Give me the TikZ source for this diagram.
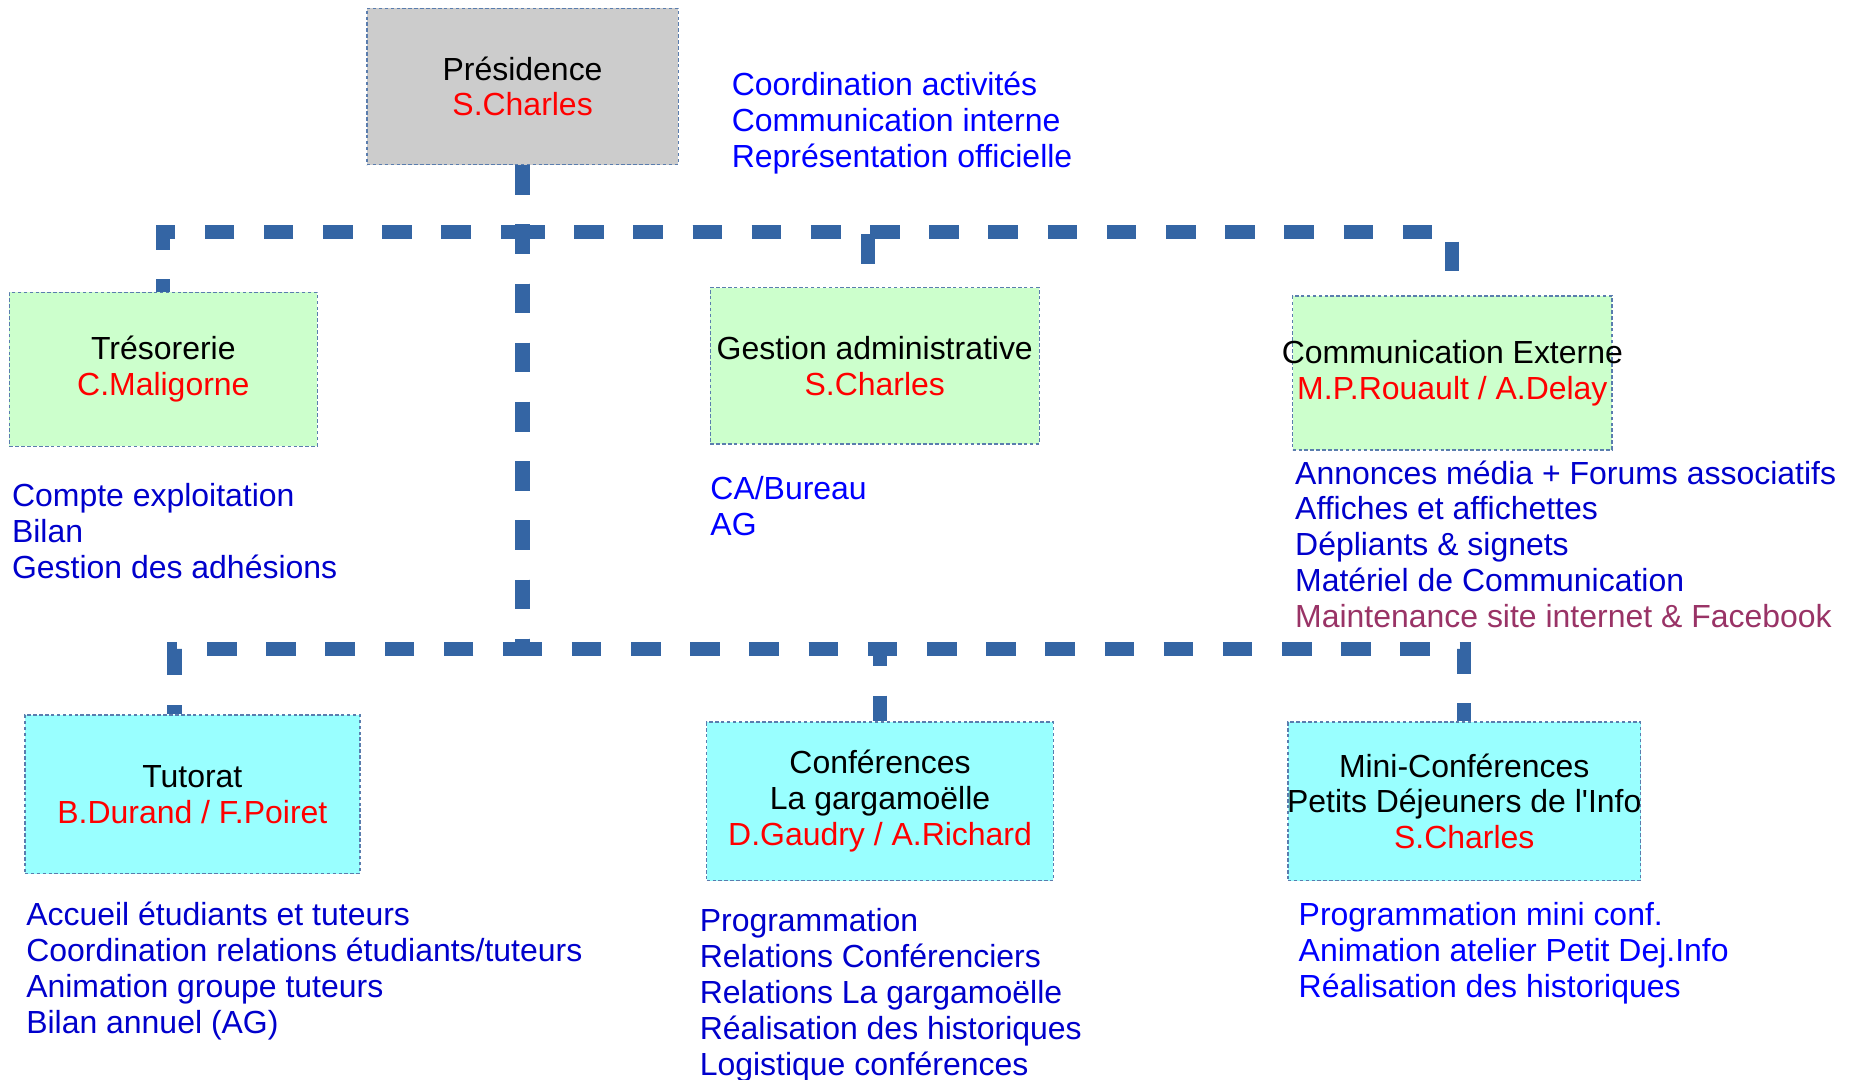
\documentclass[tikz,border=0pt]{standalone}
\usepackage{fontspec}
\setmainfont{Liberation Sans}

\definecolor{lienbleu}{HTML}{3465A4}
\definecolor{cadre}{HTML}{5A7DAE}
\definecolor{fondgris}{HTML}{CCCCCC}
\definecolor{fondvert}{HTML}{CCFFCC}
\definecolor{fondcyan}{HTML}{99FFFF}
\definecolor{nomrouge}{HTML}{FF0000}
\definecolor{tacheclair}{HTML}{0000FF}
\definecolor{tachefonce}{HTML}{0000CC}
\definecolor{tachemauve}{HTML}{993366}

\newcommand{\resp}[1]{\textcolor{nomrouge}{#1}}

\begin{document}
\begin{tikzpicture}[x=1pt,y=-1pt,font=\fontsize{27}{30.3}\selectfont,
    poste/.style={draw=cadre,line width=1.2pt,dash pattern=on 3pt off 2pt,
      align=center,inner sep=0pt},
    bureau/.style={poste,fill=fondgris},
    pole/.style={poste,fill=fondvert},
    groupe/.style={poste,fill=fondcyan},
    taches/.style={anchor=base west,align=left,inner sep=0pt},
    lien/.style={draw=lienbleu,line width=12pt,dash pattern=on 25pt off 25pt}]

  \useasboundingbox (0,0) rectangle (1568,912);

  % boites
  \node[bureau,minimum width=263,minimum height=132] (pres) at (441.5,73)
    {Présidence\\ \resp{S.Charles}};

  \begin{scope}[every node/.style={pole}]
    \node[minimum width=260,minimum height=130] (treso) at (138,312)
      {Trésorerie\\ \resp{C.Maligorne}};
    \node[minimum width=278,minimum height=132] (gestion) at (739,309)
      {Gestion administrative\\ \resp{S.Charles}};
    \node[minimum width=270,minimum height=130] (comext) at (1227,315)
      {\makebox[0pt]{Communication Externe}\\ \resp{M.P.Rouault / A.Delay}};
  \end{scope}

  \begin{scope}[every node/.style={groupe,minimum height=134}]
    \node[minimum width=283] (tutorat) at (162.5,671)
      {Tutorat\\ \resp{B.Durand / F.Poiret}};
    \node[minimum width=293] (conf) at (743.5,677)
      {Conférences\\ La gargamoëlle\\ \resp{D.Gaudry / A.Richard}};
    \node[minimum width=298] (mini) at (1237,677)
      {Mini-Conférences\\ \makebox[0pt]{Petits Déjeuners de l\textquotesingle Info}\\ \resp{S.Charles}};
  \end{scope}

  % liaisons
  \coordinate (bus haut) at (0,196);
  \coordinate (bus bas) at (0,548);

  \draw[lien] (pres.south) -- (pres.south |- bus haut) -| (treso.north);
  \draw[lien] (pres.south) -- (pres.south |- bus haut) -| ([xshift=-6pt]gestion.north);
  \draw[lien] (pres.south) -- (pres.south |- bus haut) -| (comext.north);
  \draw[lien] (pres.south) -- (pres.south |- bus bas) -| ([xshift=-15pt]tutorat.north);
  \draw[lien] (pres.south) -- (pres.south |- bus bas) -| (conf.north);
  \draw[lien] (pres.south) -- (pres.south |- bus bas) -| (mini.north);

  % taches (base = ligne du bas)
  \node[taches,text=tacheclair] (t-pres) at (618,141.6)
    {Coordination activités\\ Communication interne\\ Représentation officielle};
  \node[taches,text=tachefonce] (t-treso) at (10,488.6)
    {Compte exploitation\\ Bilan\\ Gestion des adhésions};
  \node[taches,text=tacheclair] (t-gestion) at (600,452.3)
    {CA/Bureau\\ AG};
  \node[taches,text=tachefonce] (t-comext) at (1094,530.2)
    {Annonces média + Forums associatifs\\ Affiches et affichettes\\
     Dépliants \& signets\\ Matériel de Communication\\
     \textcolor{tachemauve}{Maintenance site internet \& Facebook}};
  \node[taches,text=tachefonce] (t-tutorat) at (22,872.9)
    {Accueil étudiants et tuteurs\\ Coordination relations étudiants/tuteurs\\
     Animation groupe tuteurs\\ Bilan annuel (AG)};
  \node[taches,text=tachefonce] (t-conf) at (591,908.2)
    {Programmation\\ Relations Conférenciers\\ Relations La gargamoëlle\\
     Réalisation des historiques\\ Logistique conférences};
  \node[taches,text=tacheclair] (t-mini) at (1097,842.6)
    {Programmation mini conf.\\ Animation atelier Petit Dej.Info\\
     Réalisation des historiques};

\end{tikzpicture}
\end{document}
